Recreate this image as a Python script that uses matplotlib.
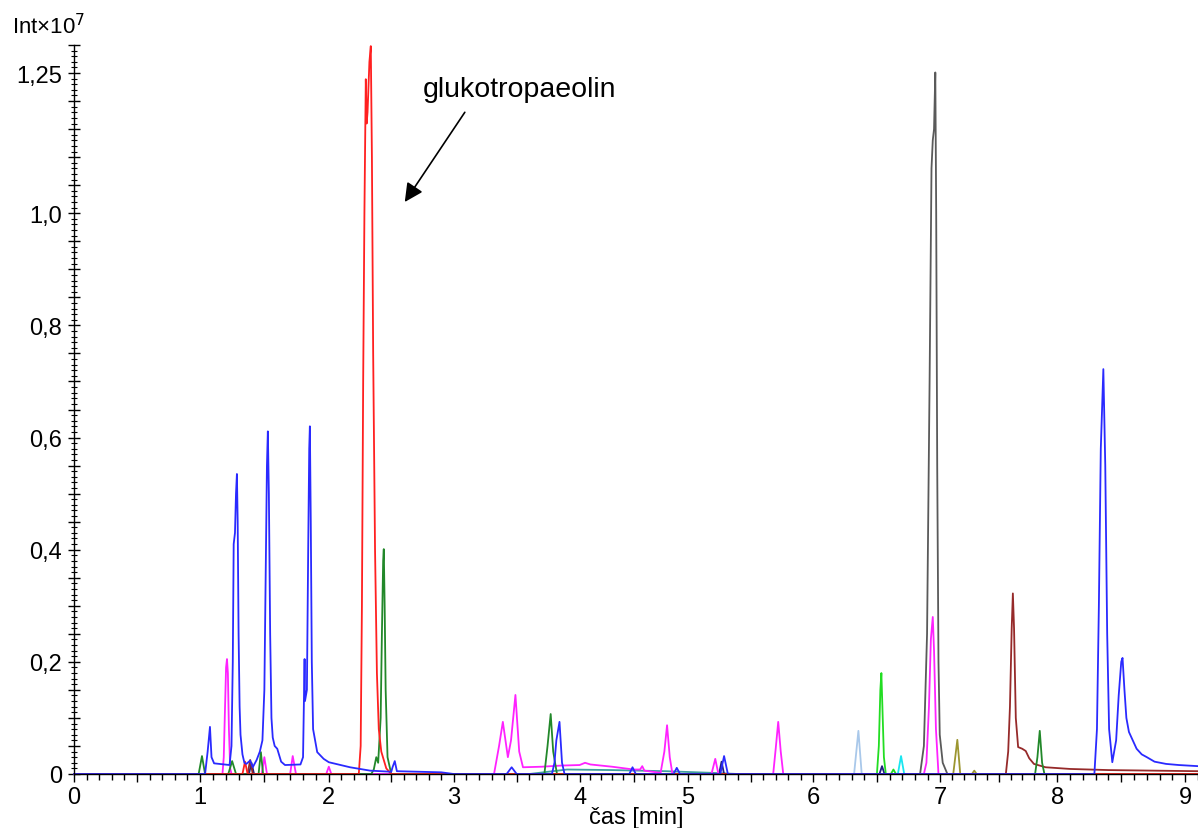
import numpy as np
import matplotlib
matplotlib.use("Agg")
import matplotlib.pyplot as plt
from matplotlib.ticker import FixedLocator, MultipleLocator

plt.rcParams['font.family'] = ['Liberation Sans', 'DejaVu Sans']

# ---- data: key points of each trace (time in min, intensity in 1e7) ----
blue_t = [0, 1.04, 1.06, 1.078, 1.09, 1.11, 1.23, 1.245, 1.255, 1.262, 1.272, 1.28, 1.287, 1.293, 1.30,
          1.308, 1.315, 1.33, 1.345, 1.36, 1.39, 1.41, 1.44, 1.465, 1.485, 1.50, 1.51, 1.52, 1.527,
          1.535, 1.545, 1.555, 1.565, 1.58, 1.60, 1.63, 1.66, 1.78, 1.80, 1.812, 1.815, 1.83, 1.84,
          1.848, 1.853, 1.86, 1.868, 1.878, 1.91, 1.96, 2.0, 2.17, 2.33, 2.50, 2.51, 2.528, 2.545,
          2.9, 3.0, 3.42, 3.46, 3.50, 3.78, 3.80, 3.815, 3.84, 3.86, 3.88, 4.46, 4.49, 4.52, 4.87,
          4.90, 4.93, 5.26, 5.29, 5.32, 8.29, 8.31, 8.325, 8.34, 8.36, 8.375, 8.39, 8.405, 8.43,
          8.46, 8.48, 8.50, 8.51, 8.525, 8.54, 8.56, 8.59, 8.62, 8.66, 8.70, 8.76, 8.85, 8.95, 9.1]
blue_y = [0, 0, 0.04, 0.084, 0.03, 0.019, 0.016, 0.05, 0.20, 0.41, 0.43, 0.50, 0.535, 0.45, 0.25,
          0.12, 0.07, 0.035, 0.02, 0.018, 0.024, 0.012, 0.025, 0.04, 0.06, 0.15, 0.35, 0.55, 0.611,
          0.50, 0.25, 0.10, 0.065, 0.05, 0.045, 0.022, 0.016, 0.017, 0.03, 0.205, 0.13, 0.15, 0.40,
          0.58, 0.62, 0.45, 0.20, 0.08, 0.039, 0.027, 0.021, 0.012, 0.006, 0.004, 0.012, 0.023, 0.005,
          0.003, 0, 0, 0.012, 0, 0, 0.02, 0.06, 0.093, 0.02, 0, 0, 0.012, 0, 0,
          0.011, 0, 0, 0.032, 0, 0, 0.08, 0.30, 0.58, 0.722, 0.55, 0.25, 0.08, 0.021,
          0.06, 0.14, 0.20, 0.207, 0.15, 0.10, 0.075, 0.06, 0.045, 0.035, 0.03, 0.022, 0.018, 0.016, 0.014]

red_t = [0, 1.33, 1.35, 1.37, 2.24, 2.255, 2.265, 2.275, 2.285, 2.296, 2.303, 2.31, 2.325, 2.336,
         2.345, 2.355, 2.37, 2.385, 2.40, 2.42, 2.46, 2.5, 9.1]
red_y = [0, 0, 0.022, 0, 0, 0.05, 0.30, 0.70, 1.0, 1.239, 1.16, 1.18, 1.27, 1.298,
         1.10, 0.75, 0.40, 0.18, 0.08, 0.04, 0.01, 0, 0]

brown_t = [0, 1.37, 1.39, 1.41, 7.56, 7.58, 7.595, 7.61, 7.62, 7.63, 7.645, 7.665, 7.70, 7.73, 7.76,
           7.80, 7.90, 8.1, 8.4, 9.1]
brown_y = [0, 0, 0.025, 0, 0, 0.04, 0.12, 0.26, 0.322, 0.26, 0.10, 0.048, 0.045, 0.041, 0.028,
           0.018, 0.012, 0.009, 0.007, 0.005]

green_t = [0, 0.99, 1.016, 1.04, 1.22, 1.25, 1.28, 1.455, 1.473, 1.49, 2.34, 2.36, 2.38, 2.395, 2.415,
           2.425, 2.435, 2.44, 2.447, 2.455, 2.47, 2.50, 3.72, 3.745, 3.77, 3.79, 3.82, 7.81, 7.83,
           7.85, 7.87, 7.89, 9.1]
green_y = [0, 0, 0.032, 0, 0, 0.023, 0, 0, 0.039, 0, 0, 0.008, 0.03, 0.02, 0.10,
           0.25, 0.38, 0.401, 0.30, 0.15, 0.03, 0, 0, 0.05, 0.107, 0.04, 0, 0, 0.03,
           0.077, 0.02, 0, 0]

magenta_t = [0, 1.175, 1.185, 1.195, 1.203, 1.21, 1.217, 1.225, 1.235, 1.245, 1.48, 1.50, 1.52, 1.70,
             1.72, 1.745, 1.98, 2.0, 2.02, 3.32, 3.36, 3.39, 3.43, 3.455, 3.49, 3.52, 3.55, 3.7, 3.85,
             4.0, 4.05, 4.1, 4.3, 4.5, 4.56, 4.58, 4.60, 4.75, 4.785, 4.81, 4.835, 4.86, 5.19, 5.22,
             5.245, 5.68, 5.70, 5.72, 5.74, 5.76, 6.87, 6.89, 6.91, 6.925, 6.94, 6.95, 6.965, 6.985, 9.1]
magenta_y = [0, 0, 0.03, 0.12, 0.19, 0.205, 0.18, 0.08, 0.01, 0, 0, 0.03, 0, 0,
             0.032, 0, 0, 0.013, 0, 0, 0.05, 0.093, 0.03, 0.06, 0.141, 0.04, 0.012, 0.013, 0.015,
             0.016, 0.02, 0.017, 0.013, 0.008, 0.008, 0.014, 0.006, 0.002, 0.04, 0.087, 0.03, 0, 0, 0.027,
             0, 0, 0.045, 0.093, 0.04, 0, 0, 0.02, 0.12, 0.24, 0.28, 0.22, 0.08, 0, 0]

gray_t = [0, 6.84, 6.87, 6.895, 6.915, 6.93, 6.94, 6.95, 6.96, 6.967, 6.975, 6.985, 6.995, 7.02, 7.06, 9.1]
gray_y = [0, 0, 0.05, 0.25, 0.70, 1.08, 1.13, 1.15, 1.251, 1.0, 0.55, 0.20, 0.07, 0.02, 0, 0]

olive_t = [0, 7.11, 7.145, 7.17, 7.27, 7.29, 7.31, 9.1]
olive_y = [0, 0, 0.061, 0, 0, 0.006, 0, 0]

lightblue_t = [0, 6.32, 6.354, 6.38, 9.1]
lightblue_y = [0, 0, 0.077, 0, 0]

lime_t = [0, 6.50, 6.515, 6.527, 6.535, 6.543, 6.555, 6.57, 6.61, 6.63, 6.65, 9.1]
lime_y = [0, 0, 0.05, 0.15, 0.18, 0.12, 0.03, 0, 0, 0.008, 0, 0]

cyan_t = [0, 6.665, 6.69, 6.715, 9.1]
cyan_y = [0, 0, 0.032, 0, 0]

navy_t = [0, 1.38, 1.40, 1.42, 5.25, 5.27, 5.29, 6.52, 6.54, 6.56, 9.1]
navy_y = [0, 0, 0.02, 0, 0, 0.022, 0, 0, 0.014, 0, 0]

teal_t = [0, 3.6, 3.9, 4.3, 4.8, 5.2, 5.4, 9.1]
teal_y = [0, 0, 0.008, 0.007, 0.005, 0.002, 0, 0]

y_label_ticks = [0, 0.2, 0.4, 0.6, 0.8, 1.0, 1.25]
y_label_text = ["0", "0,2", "0,4", "0,6", "0,8", "1,0", "1,25"]

# calibration of the (slightly uneven) time axis of the original screenshot
cal_t = [-1, 0, 1, 2, 3, 4, 5, 6, 7, 8, 9, 10]
cal_px = [-52, 74, 200, 329, 454, 580, 688, 814, 941, 1058, 1186, 1314]

traces = [
    (teal_t, teal_y, "#3f9f9f"),
    (lightblue_t, lightblue_y, "#a9c8ea"),
    (navy_t, navy_y, "#202080"),
    (olive_t, olive_y, "#9c9630"),
    (cyan_t, cyan_y, "#19e6f0"),
    (lime_t, lime_y, "#22dd22"),
    (gray_t, gray_y, "#5a5a5a"),
    (brown_t, brown_y, "#962a2a"),
    (magenta_t, magenta_y, "#ff22ff"),
    (green_t, green_y, "#22882a"),
    (red_t, red_y, "#ff2020"),
    (blue_t, blue_y, "#2a2aff"),
]

fig = plt.figure(figsize=(11.98, 8.29), dpi=100)
ax = fig.add_axes([74 / 1198, 1 - 775 / 829, 1 - 74 / 1198, (775 - 46) / 829])


def fwd(x):
    return np.interp(x, cal_t, cal_px)


def inv(p):
    return np.interp(p, cal_px, cal_t)


ax.set_xscale('function', functions=(fwd, inv))

for t, y, c in traces:
    ax.plot(t, y, color=c, lw=1.3, clip_on=False, solid_joinstyle='round')

ax.set_xlim(0, 9.1)
ax.set_ylim(0, 1.30)

for s in ['top', 'right']:
    ax.spines[s].set_visible(False)
for s in ['left', 'bottom']:
    ax.spines[s].set_linewidth(1.0)

# x ticks
xt = np.arange(0, 9.01, 0.5)
ax.xaxis.set_major_locator(FixedLocator(xt))
ax.set_xticklabels([str(int(v)) if abs(v - round(v)) < 1e-9 else "" for v in xt])
ax.xaxis.set_minor_locator(FixedLocator(np.round(np.arange(0, 9.11, 0.1), 2)))
ax.tick_params(axis='x', which='major', direction='out', length=6, width=1, labelsize=17, pad=3)
ax.tick_params(axis='x', which='minor', direction='out', length=4, width=1)

# y ticks
yt = np.round(np.arange(0, 1.301, 0.05), 2)
ax.yaxis.set_major_locator(FixedLocator(yt))
lab = []
for v in yt:
    if v in y_label_ticks:
        lab.append(y_label_text[y_label_ticks.index(v)])
    else:
        lab.append("")
ax.set_yticklabels(lab)
ax.yaxis.set_minor_locator(MultipleLocator(0.01))
ax.tick_params(axis='y', which='major', direction='inout', length=9, width=1, labelsize=17, pad=4)
ax.tick_params(axis='y', which='minor', direction='inout', length=5, width=0.8)

ax.set_xlabel("čas [min]", fontsize=17, labelpad=-2)

fig.text(12 / 1198, 1 - 27 / 829, r"Int×10$^{7}$", fontsize=16, va='center', ha='left')

ax.annotate("", xy=(2.608, 1.02), xytext=(3.088, 1.18),
            arrowprops=dict(arrowstyle='-|>', color='black', lw=1.2, mutation_scale=28,
                            shrinkA=0, shrinkB=0))
ax.text(2.752, 1.221, "glukotropaeolin", fontsize=20.5, ha='left', va='center')

fig.savefig("out.png", dpi=100, facecolor='white')
